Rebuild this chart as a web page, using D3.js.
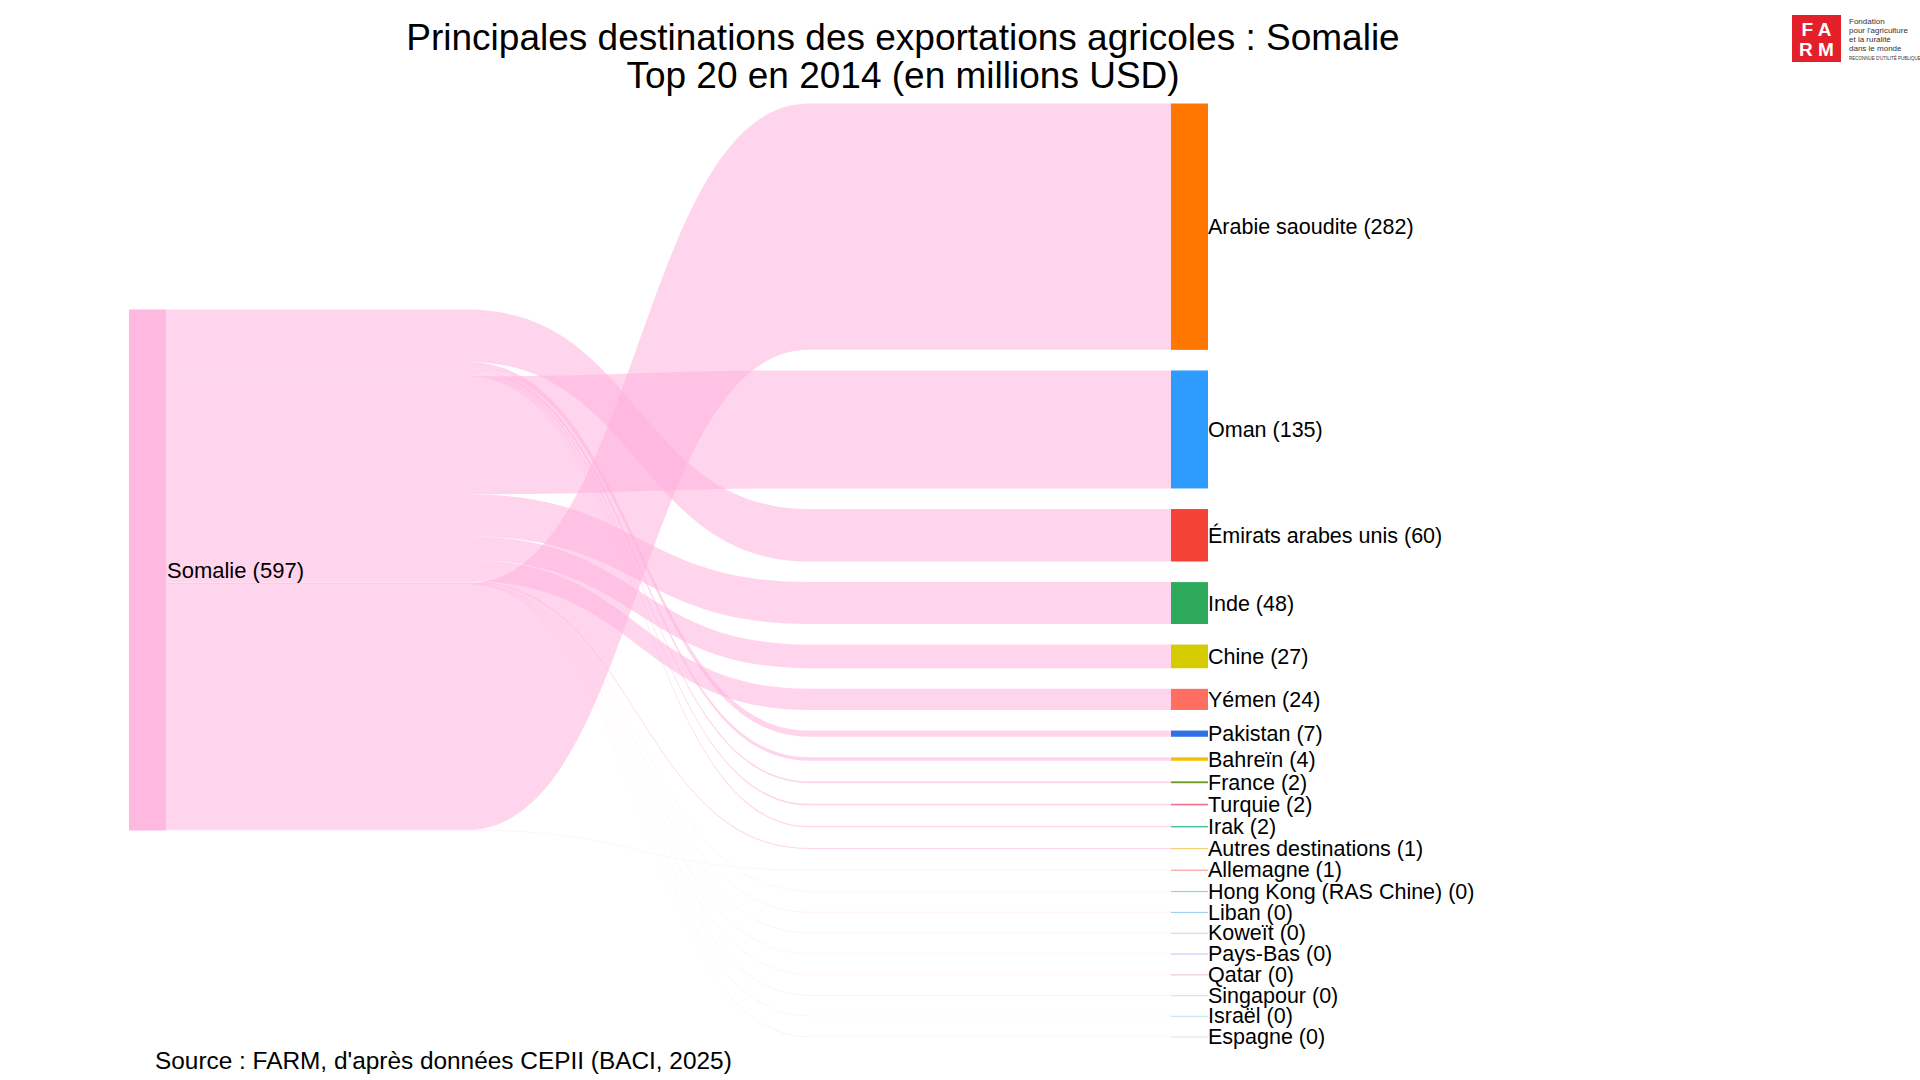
<!DOCTYPE html>
<html><head><meta charset="utf-8">
<script src="https://cdn.jsdelivr.net/npm/d3@7"></script>
<style>body{margin:0;background:#fff}text{font-family:"Liberation Sans",Arial,sans-serif}</style>
</head><body><svg id="c"></svg>
<script>
var W = 1920, H = 1080;
var targets = ['Arabie saoudite','Oman','Émirats arabes unis','Inde','Chine','Yémen','Pakistan','Bahreïn','France','Turquie','Irak','Autres destinations','Allemagne','Hong Kong (RAS Chine)','Liban','Koweït','Pays-Bas','Qatar','Singapour','Israël','Espagne'];
var values = [282.3,135.2,60.1,48.0,27.1,24.2,7.1,3.9,2.1,1.8,1.6,1.2,0.8,0.4,0.3,0.2,0.2,0.2,0.1,0.1,0.1];
var colors = ['#ff7700','#2e9bff','#f44336','#2eaa5c','#d4cc00','#ff6f61','#2f6fe8','#f5c000','#6a9a1f','#f0708a','#40c0a0','#f5d070','#f5a0a0','#90d8c8','#a0d0f0','#c8e0f0','#d0c8f0','#f0c8e0','#e0e0f0','#c8e8f0','#e8e0f0'];
// order in which links leave the source node (top to bottom)
var linkOrder = ['Émirats arabes unis','Pakistan','Bahreïn','France','Turquie','Irak','Oman','Inde','Chine','Yémen','Autres destinations','Hong Kong (RAS Chine)','Liban','Koweït','Pays-Bas','Qatar','Singapour','Israël','Espagne','Arabie saoudite','Allemagne'];
var sourceLabel = 'Somalie (597)';

var svg = d3.select('#c').attr('width', W).attr('height', H);
var total = d3.sum(values);
var k = 0.8727; // px per million
var gap = 20.6, nodeW = 37;
var xs = 129, xt = 1171, midY = 570;

var hts = values.map(function(v){ return v * k; });
var totalH = d3.sum(hts) + gap * (values.length - 1);
var nodes = [];
var y = midY - totalH / 2;
targets.forEach(function(t, i){
  nodes.push({name: t, v: values[i], y0: y, y1: y + hts[i], c: colors[i]});
  y += hts[i] + gap;
});
var byName = {};
nodes.forEach(function(n){ byName[n.name] = n; });
var sH = total * k, sy0 = midY - sH / 2;

// links
var sy = sy0;
var links = linkOrder.map(function(nm){
  var n = byName[nm];
  var h = n.v * k;
  var l = {a0: sy, a1: sy + h, b0: n.y0, b1: n.y0 + h, v: n.v};
  sy += h;
  return l;
});
var x0 = xs + nodeW, x1 = xt, dx = x1 - x0;
var f0 = x0 + 0.3 * dx, f1 = x0 + 0.64 * dx, cm = x0 + 0.47 * dx;
svg.append('g').selectAll('path').data(links).enter().append('path')
  .attr('d', function(l){
    var a1 = Math.max(l.a1, l.a0 + 0.6), b1 = Math.max(l.b1, l.b0 + 0.6);
    var p = d3.path();
    p.moveTo(x0, l.a0);
    p.lineTo(f0, l.a0);
    p.bezierCurveTo(cm, l.a0, cm, l.b0, f1, l.b0);
    p.lineTo(x1, l.b0);
    p.lineTo(x1, b1);
    p.lineTo(f1, b1);
    p.bezierCurveTo(cm, b1, cm, a1, f0, a1);
    p.lineTo(x0, a1);
    p.closePath();
    return p.toString();
  })
  .style('fill', '#ffb3de')
  .style('opacity', function(l){ return l.v < 1 ? 0.25 : 0.55; });

// nodes
svg.append('rect').attr('x', xs).attr('y', sy0).attr('width', nodeW).attr('height', sH).style('fill', '#ffb8e0');
svg.append('text').attr('x', xs + nodeW + 1).attr('y', midY).attr('dy', '0.35em').style('font-size', '22px').text(sourceLabel);

var g = svg.append('g').selectAll('g').data(nodes).enter().append('g');
g.append('rect').attr('x', xt).attr('y', function(n){ return n.y0; })
  .attr('width', nodeW).attr('height', function(n){ return Math.max(1.2, n.y1 - n.y0); })
  .style('fill', function(n){ return n.c; });
g.append('text').attr('x', xt + nodeW).attr('y', function(n){ return (n.y0 + n.y1) / 2; })
  .attr('dy', '0.35em').style('font-size', '21.5px')
  .text(function(n){ return n.name + ' (' + Math.round(n.v) + ')'; });

// titles
svg.append('text').attr('x', 903).attr('y', 50).attr('text-anchor', 'middle').style('font-size', '37px')
  .text('Principales destinations des exportations agricoles : Somalie');
svg.append('text').attr('x', 903).attr('y', 88).attr('text-anchor', 'middle').style('font-size', '37px')
  .text('Top 20 en 2014 (en millions USD)');
svg.append('text').attr('x', 155).attr('y', 1069).style('font-size', '24.4px')
  .text("Source : FARM, d'après données CEPII (BACI, 2025)");

// logo
var lg = svg.append('g').attr('transform', 'translate(1792,15)');
lg.append('rect').attr('width', 49).attr('height', 47).style('fill', '#e3202a');
lg.append('text').attr('x', 24.5).attr('y', 21).attr('text-anchor', 'middle').style('fill', '#fff').style('font-size', '19px').style('font-weight', 'bold').text('F A');
lg.append('text').attr('x', 24.5).attr('y', 41).attr('text-anchor', 'middle').style('fill', '#fff').style('font-size', '19px').style('font-weight', 'bold').text('R M');
['Fondation','pour l\'agriculture','et la ruralité','dans le monde'].forEach(function(t, i){
  lg.append('text').attr('x', 57).attr('y', 9 + i * 9).style('font-size', '8px').style('fill', '#333').text(t);
});
lg.append('text').attr('x', 57).attr('y', 45).style('font-size', '4.5px').style('fill', '#333').text("RECONNUE D'UTILITÉ PUBLIQUE");
</script></body></html>
